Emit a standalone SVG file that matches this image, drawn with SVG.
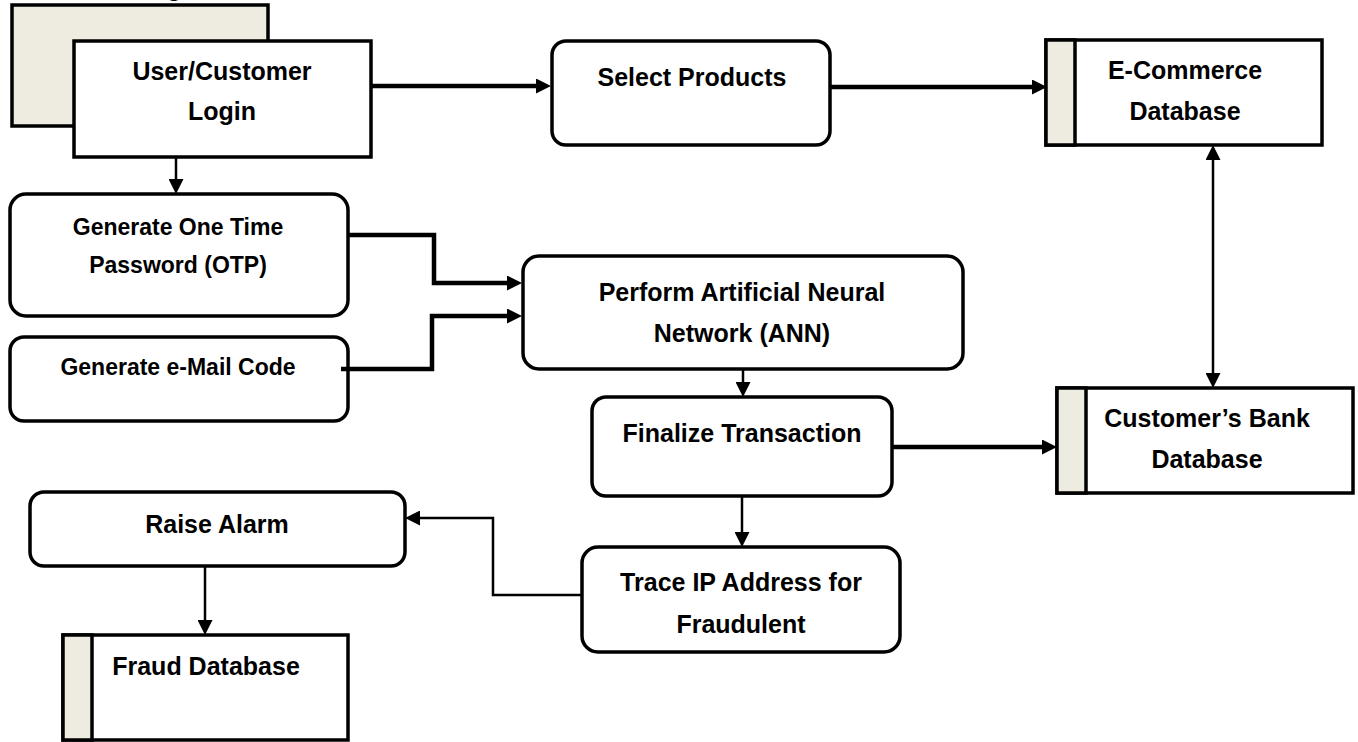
<svg xmlns="http://www.w3.org/2000/svg" width="1358" height="742" viewBox="0 0 1358 742">
  <style>
    .box { fill: #ffffff; stroke: #000000; stroke-width: 3.5; }
    .strip { fill: #EEECE1; stroke: #000000; stroke-width: 3.5; }
    .label { font-family: "Liberation Sans", Arial, sans-serif; font-weight: bold; font-size: 25px; fill: #000000; text-anchor: middle; }
    .small { font-size: 23px; }
    .thick { fill: none; stroke: #000000; stroke-width: 4.5; marker-end: url(#head); }
    .thin { fill: none; stroke: #000000; stroke-width: 2.5; marker-end: url(#head); }
    .both { marker-start: url(#head); }
  </style>
  <defs>
    <marker id="head" markerUnits="userSpaceOnUse" markerWidth="15" markerHeight="15" refX="7" refY="7.5" orient="auto-start-reverse">
      <path d="M0,0 L15,7.5 L0,15 z" fill="#000000"/>
    </marker>
  </defs>
  <rect width="1358" height="742" fill="#ffffff"/>

  <!-- external entity: user / customer (stacked) -->
  <g id="user-login">
    <rect class="strip" x="12" y="5" width="256" height="121"/>
    <text class="label" x="170" y="-4">Login</text>
    <rect class="box" x="74" y="41" width="297" height="116"/>
    <text class="label" x="222" y="80">User/Customer</text>
    <text class="label" x="222" y="120">Login</text>
  </g>

  <g id="select-products">
    <rect class="box" x="552" y="41" width="278" height="104" rx="14"/>
    <text class="label" x="692" y="86">Select Products</text>
  </g>

  <g id="ecommerce-db">
    <rect class="box" x="1046" y="40" width="276" height="105"/>
    <rect class="strip" x="1046" y="40" width="29" height="105"/>
    <text class="label" x="1185" y="79">E-Commerce</text>
    <text class="label" x="1185" y="120">Database</text>
  </g>

  <g id="generate-otp">
    <rect class="box" x="10" y="194" width="338" height="122" rx="16"/>
    <text class="label small" x="178" y="235">Generate One Time</text>
    <text class="label small" x="178" y="273">Password (OTP)</text>
  </g>

  <g id="generate-email">
    <rect class="box" x="10" y="337" width="338" height="84" rx="14"/>
    <text class="label small" x="178" y="375">Generate e-Mail Code</text>
  </g>

  <g id="perform-ann">
    <rect class="box" x="523" y="256" width="440" height="113" rx="16"/>
    <text class="label" x="742" y="301">Perform Artificial Neural</text>
    <text class="label" x="742" y="342">Network (ANN)</text>
  </g>

  <g id="finalize-transaction">
    <rect class="box" x="592" y="397" width="300" height="99" rx="14"/>
    <text class="label" x="742" y="442">Finalize Transaction</text>
  </g>

  <g id="bank-db">
    <rect class="box" x="1057" y="388" width="296" height="105"/>
    <rect class="strip" x="1057" y="388" width="29" height="105"/>
    <text class="label" x="1207" y="427">Customer’s Bank</text>
    <text class="label" x="1207" y="468">Database</text>
  </g>

  <g id="raise-alarm">
    <rect class="box" x="30" y="492" width="375" height="74" rx="14"/>
    <text class="label" x="217" y="533">Raise Alarm</text>
  </g>

  <g id="trace-ip">
    <rect class="box" x="582" y="547" width="318" height="105" rx="16"/>
    <text class="label" x="741" y="591">Trace IP Address for</text>
    <text class="label" x="741" y="633">Fraudulent</text>
  </g>

  <g id="fraud-db">
    <rect class="box" x="63" y="635" width="285" height="105"/>
    <rect class="strip" x="63" y="635" width="29" height="105"/>
    <text class="label" x="206" y="675">Fraud Database</text>
  </g>

  <!-- flows -->
  <g id="connectors">
    <path class="thick" d="M371,86 H543"/>
    <path class="thick" d="M830,87 H1039"/>
    <path class="thin" d="M176,157 V186"/>
    <path class="thick" d="M348,235 H434 V283 H514"/>
    <path class="thick" d="M341,369 H432 V316 H514"/>
    <path class="thin" d="M743,369 V389"/>
    <path class="thick" d="M892,447 H1049"/>
    <path class="thin both" d="M1213,153 V380"/>
    <path class="thin" d="M742,496 V539"/>
    <path class="thin" d="M582,595 H493 V518 H413"/>
    <path class="thin" d="M205,566 V627"/>
  </g>
</svg>
